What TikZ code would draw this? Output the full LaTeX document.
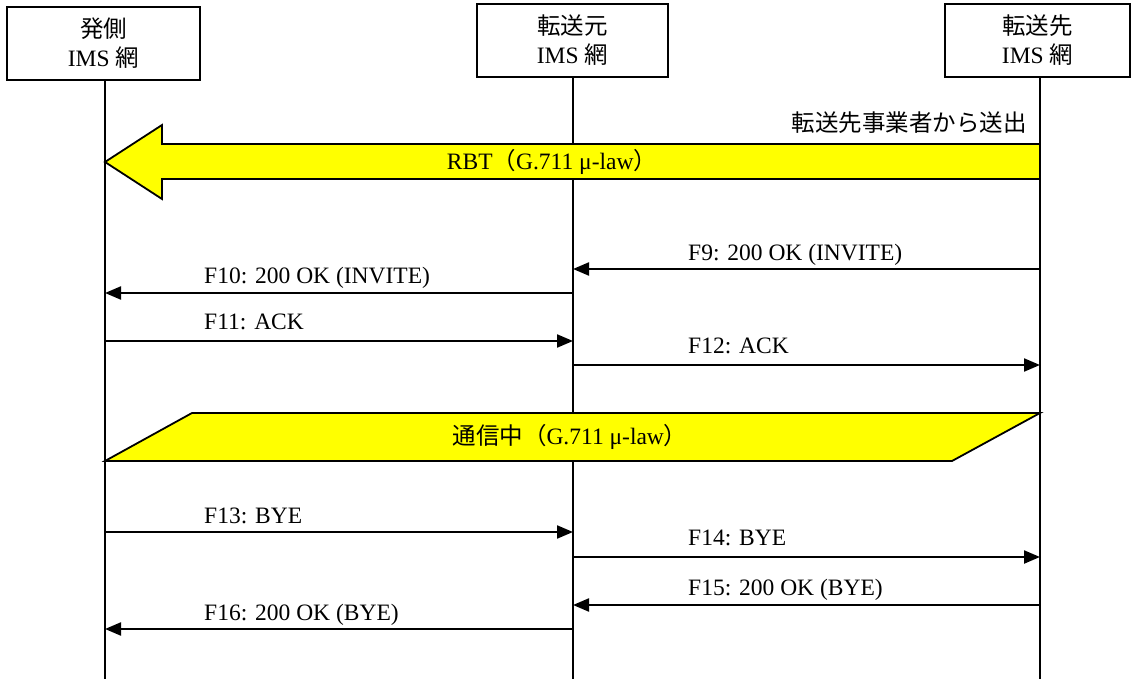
\documentclass[tikz,border=0pt]{standalone}
\usepackage{fontspec}
\setmainfont{Liberation Serif}
\newfontfamily\cjk{Noto Sans CJK JP}
\usetikzlibrary{arrows.meta}
\definecolor{bandyellow}{RGB}{255,255,0}
\begin{document}
\begin{tikzpicture}[x=1pt,y=-1pt,
  every node/.style={font=\fontsize{23.5}{29}\selectfont, inner sep=0pt},
  box/.style={draw, line width=1.6pt, align=center, minimum height=73pt},
  life/.style={line width=1.3pt},
  msg/.style={line width=2.2pt, -{Triangle[length=16pt,width=13pt]}},
  band/.style={draw, line width=1.8pt, fill=bandyellow, line join=miter},
  lbl/.style={anchor=base west}]
\useasboundingbox (0,0) rectangle (1132,679);
% header boxes
\node[box, minimum width=193pt] (b1) at (103.5,43.5) {{\cjk 発側}\\IMS {\cjk 網}};
\node[box, minimum width=191pt] (b2) at (572.5,40.5) {{\cjk 転送元}\\IMS {\cjk 網}};
\node[box, minimum width=185pt] (b3) at (1037.5,40.5) {{\cjk 転送先}\\IMS {\cjk 網}};
% lifelines
\coordinate (L1) at (105,679);
\coordinate (L2) at (573,679);
\coordinate (L3) at (1040,679);
\draw[life] (b1.south -| L1) -- (L1);
\draw[life] (b2.south -| L2) -- (L2);
\draw[life] (b3.south -| L3) -- (L3);
% RBT band arrow
\node[anchor=east] (src) at (1027,123) {\cjk 転送先事業者から送出};
\draw[band] (1040,144) -- (162,144) -- (162,125) -- (105,162) -- (162,199) -- (162,179) -- (1040,179) -- cycle;
\node (rbt) at (552,162) {RBT{\cjk （}G.711 μ-law{\cjk ）}};
% messages
\coordinate (m9) at (0,269);
\coordinate (m10) at (0,293);
\coordinate (m11) at (0,341);
\coordinate (m12) at (0,365);
\draw[msg] (L3 |- m9) -- (L2 |- m9);
\node[lbl] (t9) at (688,260) {F9: 200 OK (INVITE)};
\draw[msg] (L2 |- m10) -- (L1 |- m10);
\node[lbl] (t10) at (204,283) {F10: 200 OK (INVITE)};
\draw[msg] (L1 |- m11) -- (L2 |- m11);
\node[lbl] (t11) at (204,329) {F11: ACK};
\draw[msg] (L2 |- m12) -- (L3 |- m12);
\node[lbl] (t12) at (688,353) {F12: ACK};
% talking band
\draw[band] (105,461) -- (192,413) -- (1040,413) -- (952,461) -- cycle;
\node (talk) at (570,437) {{\cjk 通信中（}G.711 μ-law{\cjk ）}};
% release
\coordinate (m13) at (0,532);
\coordinate (m14) at (0,557);
\coordinate (m15) at (0,605);
\coordinate (m16) at (0,629);
\draw[msg] (L1 |- m13) -- (L2 |- m13);
\node[lbl] (t13) at (204,523) {F13: BYE};
\draw[msg] (L2 |- m14) -- (L3 |- m14);
\node[lbl] (t14) at (688,545) {F14: BYE};
\draw[msg] (L3 |- m15) -- (L2 |- m15);
\node[lbl] (t15) at (688,595) {F15: 200 OK (BYE)};
\draw[msg] (L2 |- m16) -- (L1 |- m16);
\node[lbl] (t16) at (204,620) {F16: 200 OK (BYE)};
\end{tikzpicture}
\end{document}
